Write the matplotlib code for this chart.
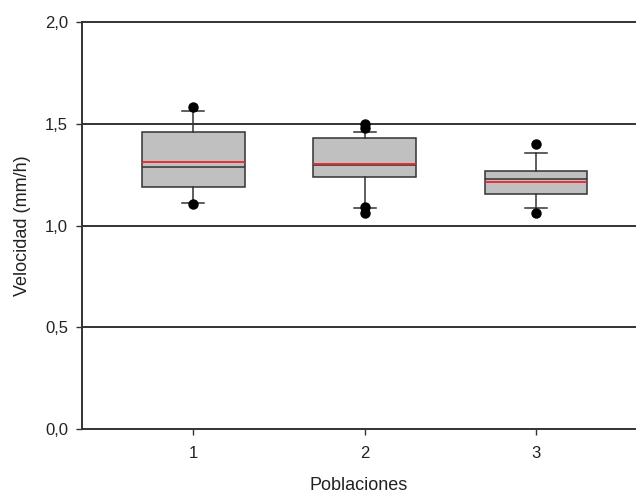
import matplotlib
matplotlib.use("Agg")
import matplotlib.pyplot as plt
from matplotlib.ticker import FuncFormatter

plt.rcParams['font.family'] = ['Liberation Sans', 'DejaVu Sans']

poblaciones = [1, 2, 3]
q1 = [1.190, 1.241, 1.157]
q3 = [1.460, 1.431, 1.269]
medianas = [1.288, 1.300, 1.229]
medias = [1.314, 1.302, 1.216]
bigote_inf = [1.110, 1.085, 1.085]
bigote_sup = [1.563, 1.459, 1.356]
atipicos = [[1.584, 1.107], [1.499, 1.480, 1.092, 1.062], [1.401, 1.064]]

stats = []
for i in range(len(poblaciones)):
    stats.append({
        'med': medianas[i], 'q1': q1[i], 'q3': q3[i],
        'whislo': bigote_inf[i], 'whishi': bigote_sup[i],
        'mean': medias[i], 'fliers': atipicos[i],
    })

fig = plt.figure(figsize=(6.36, 4.94), dpi=100)
ax = fig.add_axes([0.1285, 0.131, 0.8715, 0.8245])

for y in [0.5, 1.0, 1.5, 2.0]:
    ax.axhline(y, color='#333333', lw=1.4, zorder=0, clip_on=False)

ax.bxp(stats, positions=poblaciones, widths=0.60, patch_artist=True,
       showmeans=True, meanline=True,
       boxprops=dict(facecolor='#c0c0c0', edgecolor='#333333', lw=1.1),
       medianprops=dict(color='#333333', lw=1.1),
       meanprops=dict(color='#e8262a', lw=1.3, linestyle='-'),
       whiskerprops=dict(color='#333333', lw=1.1),
       capprops=dict(color='#333333', lw=1.1),
       capwidths=0.128,
       flierprops=dict(marker='o', markerfacecolor='black', markeredgecolor='black', markersize=6.5))

ax.set_xlim(0.349, 3.584)
ax.set_ylim(0, 2.0)
ax.set_xticks(poblaciones)
ax.set_xticklabels([str(p) for p in poblaciones])
ax.set_yticks([0, 0.5, 1.0, 1.5, 2.0])
ax.yaxis.set_major_formatter(FuncFormatter(lambda v, p: f"{v:.1f}".replace('.', ',')))

for s in ['top', 'right']:
    ax.spines[s].set_visible(False)
for s in ['left', 'bottom']:
    ax.spines[s].set_color('#333333')
    ax.spines[s].set_linewidth(1.4)
ax.tick_params(length=4.3, width=1.0, color='#333333', labelsize=12, labelcolor='#222222')
ax.tick_params(axis='x', pad=8)
ax.tick_params(axis='y', pad=5.5)

ax.set_xlabel('Poblaciones', fontsize=13, color='#222222', labelpad=11)
ax.set_ylabel('Velocidad (mm/h)', fontsize=13, color='#222222', labelpad=10)

fig.savefig('out.png', dpi=100)
